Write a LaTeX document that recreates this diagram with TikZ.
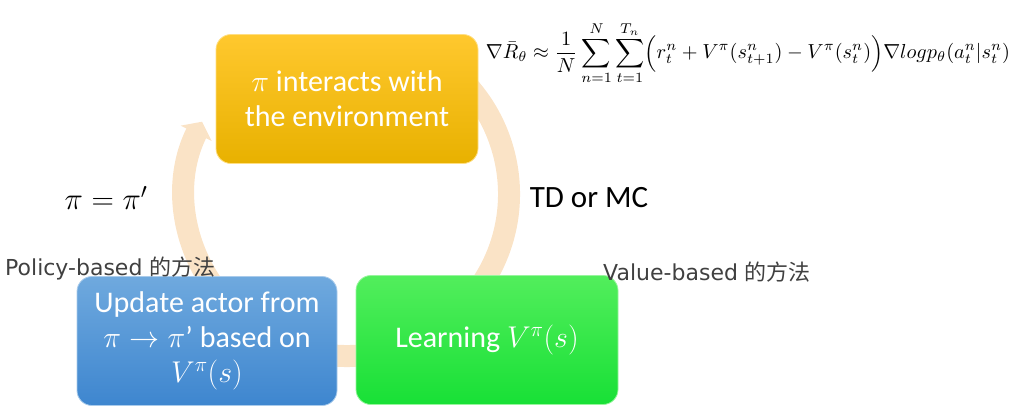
\RequirePackage{fix-cm}
\documentclass[tikz,border=0pt]{standalone}
\usepackage{fontspec}
\usepackage{amsmath}
\usepackage{graphicx}
\setmainfont{Carlito}
\newfontfamily\labelfont{DejaVu Sans}
\newfontfamily\cjk{Noto Sans CJK TC}
\usetikzlibrary{positioning,arrows.meta}
\definecolor{EnvTop}{HTML}{FFC82E}
\definecolor{EnvBot}{HTML}{E8B100}
\definecolor{UpdTop}{HTML}{6FA9DE}
\definecolor{UpdBot}{HTML}{3E86CF}
\definecolor{LearnTop}{HTML}{52EE5C}
\definecolor{LearnBot}{HTML}{18E036}
\definecolor{RingTan}{HTML}{FAE3C6}
\definecolor{NoteGray}{HTML}{404040}
\tikzset{
  stepbox/.style={rounded corners=15pt,minimum width=#1,minimum height=129pt,
    font=\fontsize{30}{35}\selectfont\color{white},align=center,inner sep=4pt},
  envbox/.style={stepbox=262pt,top color=EnvTop,bottom color=EnvBot,draw=EnvTop!60!white,line width=0.8pt},
  updbox/.style={stepbox=260pt,top color=UpdTop,bottom color=UpdBot,draw=UpdTop!60!white,line width=0.8pt},
  learnbox/.style={stepbox=262pt,top color=LearnTop,bottom color=LearnBot,draw=LearnTop!60!white,line width=0.8pt},
  ring/.style={line width=22pt,draw=RingTan,-{Triangle[width=34pt,length=13pt]}},
  note/.style={font=\fontsize{22}{26}\selectfont\labelfont\color{NoteGray},anchor=west,inner sep=0pt},
  bigtext/.style={font=\fontsize{31}{36}\selectfont,inner sep=0pt},
}

\begin{document}
\begin{tikzpicture}[x=1pt,y=1pt]
  \useasboundingbox (0,0) rectangle (1017,-413);
  \coordinate (hub) at (347,-194);
  \draw[ring] (hub) ++(60:162) arc[start angle=60,end angle=-206.5,radius=162];
  \node[envbox] (env) at (347,-99) {$\pi$ interacts with\\the environment};
  \node[updbox] (upd) at (207,-341) {Update actor from\\$\pi\rightarrow\pi$’ based on\\$V^{\pi}(s)$};
  \node[learnbox] (learn) at (487,-340) {Learning $V^{\pi}(s)$};
  \node (grad) at (748,-53) {\resizebox{524pt}{!}{$\displaystyle \nabla\bar{R}_{\theta}\approx\frac{1}{N}\sum_{n=1}^{N}\sum_{t=1}^{T_n}\Bigl(r_t^n+V^{\pi}(s_{t+1}^n)-V^{\pi}(s_t^n)\Bigr)\nabla log p_{\theta}(a_t^n|s_t^n)$}};
  \node[bigtext] (tdmc) at (589,-198) {TD or MC};
  \node[bigtext] (assign) at (106,-198) {$\pi=\pi'$};
  \node[note] (policy) at (5,-268) {Policy-based {\cjk 的方法}};
  \node[note] (value) at (603,-272) {Value-based {\cjk 的方法}};
\end{tikzpicture}
\end{document}
